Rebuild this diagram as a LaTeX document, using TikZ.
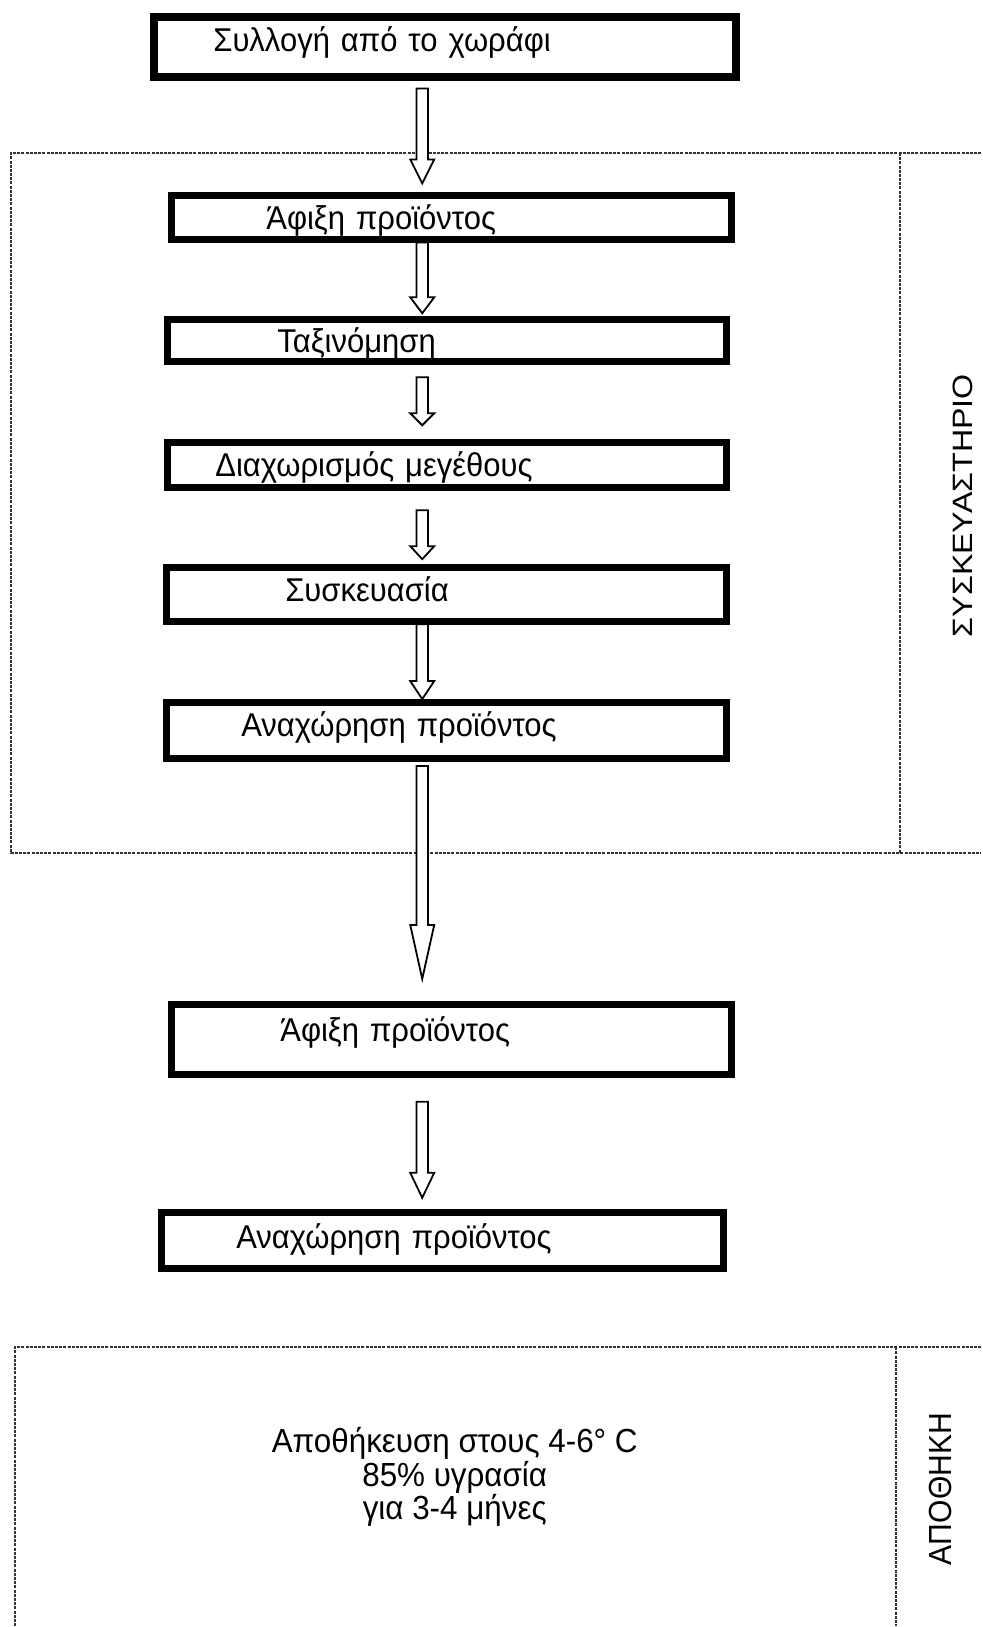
\documentclass[tikz,border=0pt]{standalone}
\usepackage{fontspec}
\setmainfont{Liberation Sans}[FakeStretch=0.94]
\newfontfamily\widefont{Liberation Sans}[FakeStretch=1.15]
\usetikzlibrary{positioning,calc}

\begin{document}
\begin{tikzpicture}[x=0.5pt, y=-0.5pt,
  stage/.style={draw, line width=3.5pt, inner xsep=0pt, inner ysep=0pt, outer sep=0pt,
    align=left, text width=280pt, text depth=0.7pt, font=\fontsize{16.5}{19}\selectfont,
    execute at begin node={\noindent\hspace*{#1}}},
  zone/.style={draw=black!80, line width=1pt, dash pattern=on 1.5pt off 0.6pt},
  zonelabel/.style={rotate=90, inner sep=0pt},
  blockarrow/.style={draw, line width=0.9pt, fill=white,
    to path={let \p1=(\tikztostart), \p2=(\tikztotarget) in
      (\x1-2.9pt,\y1) -- (\x1-2.9pt,\y2+#1) -- (\x1-6pt,\y2+#1) -- (\x1,\y2)
      -- (\x1+6pt,\y2+#1) -- (\x1+2.9pt,\y2+#1) -- (\x1+2.9pt,\y1) -- cycle}},
  blockarrow/.default=12pt]
\fill[white] (0,0) rectangle (982,1627);

% the two zones
\draw[zone] (982,153) -- (11,153) -- (11,854) -- (982,854);
\draw[zone] (901,153) -- (901,854);
\draw[zone] (982,1348) -- (15,1348) -- (15,1627);
\draw[zone] (897,1348) -- (897,1627);
\node[zonelabel, font=\widefont\fontsize{14}{16}\selectfont] (packhouse) at (963,506) {ΣΥΣΚΕΥΑΣΤΗΡΙΟ};
\node[zonelabel, font=\fontsize{16}{18}\selectfont] (store) at (941,1490) {ΑΠΟΘΗΚΗ};

% stages
\node[stage=29.5pt, line width=4pt, text width=290.75pt, minimum height=30pt, text depth=7.7pt] (collect) at (445.25,47) {Συλλογή από το χωράφι};
\node[stage=47.5pt, minimum height=22pt] (arrive1) at (451.5,217.5) {Άφιξη προϊόντος};
\node[stage=55pt, text width=279.5pt, minimum height=21pt] (sort) at (447,340.5) {Ταξινόμηση};
\node[stage=24pt, text width=279.5pt, minimum height=22.5pt] (size) at (447,465) {Διαχωρισμός μεγέθους};
\node[stage=59.5pt, minimum height=27pt, text depth=4.7pt] (pack) at (446.5,594.5) {Συσκευασία};
\node[stage=37.5pt, minimum height=28pt, text depth=5.7pt] (depart1) at (446.5,730.5) {Αναχώρηση προϊόντος};
\node[stage=54.5pt, minimum height=35pt, text depth=10.7pt] (arrive2) at (451.5,1040.5) {Άφιξη προϊόντος};
\node[stage=37.5pt, text width=281pt, minimum height=28pt, text depth=4.7pt] (depart2) at (442.5,1241.5) {Αναχώρηση προϊόντος};

\node[align=center, font=\fontsize{16.7}{16.8}\selectfont] (storage) at (455,1478) {Αποθήκευση στους 4-6° C\\85\% υγρασία\\για 3-4 μήνες};

% arrows
\coordinate (axis) at (422.5,0);
\draw[blockarrow=12pt] ($(collect.south -| axis)+(0,11.5)$) to ($(arrive1.north -| axis)+(0,-12)$);
\draw[blockarrow=8pt] ($(arrive1.south -| axis)+(0,3)$) to ($(sort.north -| axis)+(0,-6)$);
\draw[blockarrow=6pt] ($(sort.south -| axis)+(0,16)$) to ($(size.north -| axis)+(0,-17)$);
\draw[blockarrow=6.5pt] ($(size.south -| axis)+(0,23)$) to ($(pack.north -| axis)+(0,-8)$);
\draw[blockarrow=9pt] ($(pack.south -| axis)+(0,3)$) to ($(depart1.north -| axis)+(0,-3)$);
\draw[blockarrow=27pt] ($(depart1.south -| axis)+(0,8)$) to ($(arrive2.north -| axis)+(0,-26)$);
\draw[blockarrow=12.5pt] ($(arrive2.south -| axis)+(0,27)$) to ($(depart2.north -| axis)+(0,-15)$);
\end{tikzpicture}
\end{document}
